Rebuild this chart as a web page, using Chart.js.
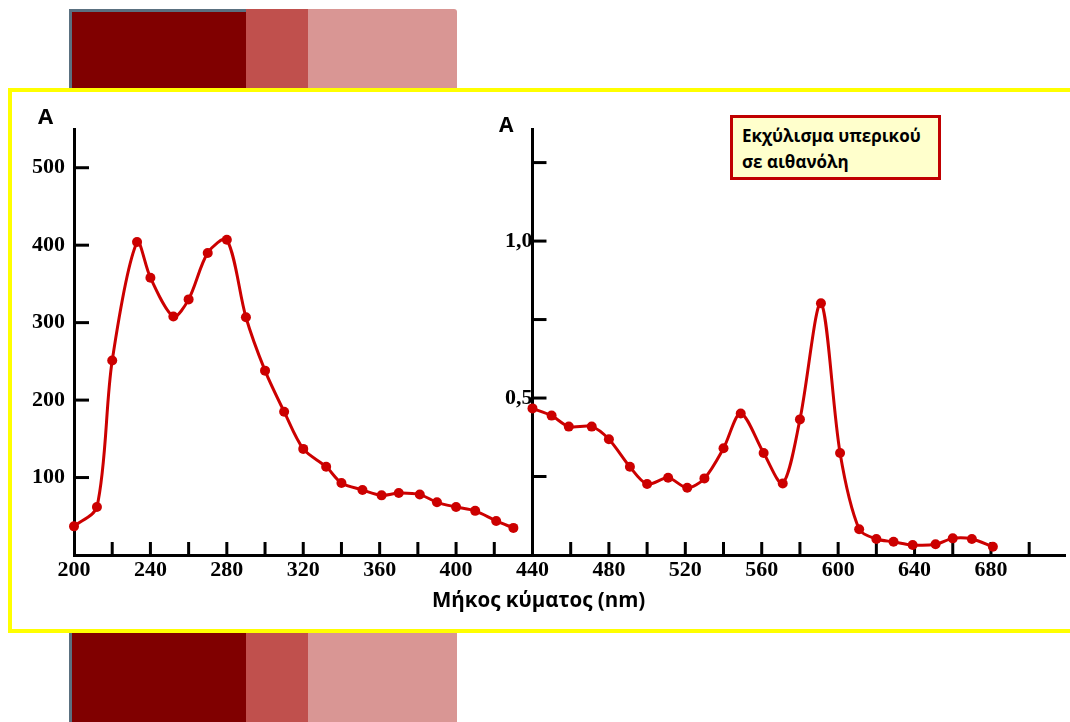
<!DOCTYPE html>
<html>
<head>
<meta charset="utf-8">
<script src="https://cdn.jsdelivr.net/npm/chart.js@4.4.1/dist/chart.umd.min.js"></script>
<style>
  html, body { margin: 0; padding: 0; width: 1070px; height: 722px; overflow: hidden; background: #ffffff; }
  .abs { position: absolute; }
  .dark { background: #800000; }
  .mid { background: #C0504D; }
  .light { background: #D99694; }
  #frame { left: 8px; top: 88px; width: 1100px; height: 545px; box-sizing: border-box; border: 4px solid #FFFF00; background: #ffffff; }
  #chartCanvas { left: 0; top: 0; }
  .txt { position: absolute; font-family: 'Open Sans', 'Noto Sans', sans-serif; font-weight: bold; color: #000; line-height: 1; white-space: nowrap; }
  #legendBox { left: 730px; top: 115px; width: 211px; height: 65px; box-sizing: border-box; border: 3px solid #C00000; background: #FFFFCC; }
</style>
</head>
<body>
<!-- decorative slide bars -->
<div class="abs dark" style="left:69px;top:9px;width:177px;height:79px;border-left:3px solid #5A7080;border-top:3px solid #5A7080;box-sizing:border-box;"></div>
<div class="abs mid" style="left:246px;top:9px;width:62px;height:79px;"></div>
<div class="abs light" style="left:308px;top:9px;width:149px;height:79px;border-top-right-radius:3px;"></div>
<div class="abs dark" style="left:69px;top:633px;width:177px;height:89px;border-left:3px solid #5A7080;box-sizing:border-box;"></div>
<div class="abs mid" style="left:246px;top:633px;width:62px;height:89px;"></div>
<div class="abs light" style="left:308px;top:633px;width:149px;height:89px;"></div>

<div id="frame" class="abs"></div>
<canvas id="chartCanvas" class="abs" width="1070" height="722"></canvas>

<div class="txt" style="left:38px;top:104px;font-size:22px;">A</div>
<div class="txt" style="left:499px;top:114px;font-size:21px;">A</div>
<div class="txt" style="left:432px;top:589px;font-size:20.5px;">Μήκος κύματος (nm)</div>
<div id="legendBox" class="abs">
  <div class="txt" style="left:9px;top:9px;font-size:17px;">Εκχύλισμα υπερικού</div>
  <div class="txt" style="left:9px;top:35px;font-size:17px;">σε αιθανόλη</div>
</div>

<script>
// ---- data ----
const leftWavelengths = [200, 212, 220, 233, 240, 252, 260, 270, 280, 290, 300, 310, 320, 332, 340, 351, 361, 370, 381, 390, 400, 410, 421, 430];
const leftAbsorbance  = [37, 62, 251, 404, 358, 308, 330, 390, 407, 307, 238, 185, 137, 114, 93, 84, 77, 80, 78, 68, 62, 57, 44, 35];

const rightWavelengths = [440, 450, 459, 471, 480, 491, 500, 511, 521, 530, 540, 549, 561, 571, 580, 591, 601, 611, 620, 629, 639, 651, 660, 670, 681];
const rightAbsorbance  = [0.467, 0.444, 0.409, 0.409, 0.369, 0.281, 0.226, 0.246, 0.214, 0.244, 0.340, 0.451, 0.325, 0.228, 0.432, 0.802, 0.325, 0.082, 0.051, 0.042, 0.032, 0.034, 0.053, 0.051, 0.026];

const xTickLabels = [200, 240, 280, 320, 360, 400, 440, 480, 520, 560, 600, 640, 680];
const leftTickLabels = [100, 200, 300, 400, 500];
const rightTickValues = [0.5, 1.0];
const rightTickText = ['0,5', '1,0'];
const rightAxisAt = 440;

// ---- chart ----
const tickFont = { family: "'Liberation Serif', 'Times New Roman', serif", weight: 'bold', size: 22 };
const RED = '#CC0000';

const innerTicks = {
  id: 'innerTicks',
  beforeDatasetsDraw(chart) {
    const { ctx, chartArea, scales } = chart;
    ctx.save();
    ctx.strokeStyle = '#000';
    ctx.lineWidth = 3;
    scales.x.ticks.forEach(t => {
      if (t.value <= scales.x.min) return;
      const px = scales.x.getPixelForValue(t.value);
      ctx.beginPath(); ctx.moveTo(px, chartArea.bottom); ctx.lineTo(px, chartArea.bottom - 13); ctx.stroke();
    });
    scales.y.ticks.forEach(t => {
      if (t.value <= 0) return;
      const py = scales.y.getPixelForValue(t.value);
      ctx.beginPath(); ctx.moveTo(chartArea.left, py); ctx.lineTo(chartArea.left + 15, py); ctx.stroke();
    });
    const ax = scales.x.getPixelForValue(rightAxisAt);
    scales.y2.ticks.forEach(t => {
      if (t.value <= 0) return;
      const py = scales.y2.getPixelForValue(t.value);
      ctx.beginPath(); ctx.moveTo(ax, py); ctx.lineTo(ax + 14, py); ctx.stroke();
    });
    ctx.restore();
  }
};

const dsStyle = {
  borderColor: RED, backgroundColor: RED, pointBackgroundColor: RED, pointBorderColor: RED,
  borderWidth: 3, pointRadius: 5, pointBorderWidth: 0, tension: 0.3, clip: false, fill: false
};

new Chart(document.getElementById('chartCanvas'), {
  type: 'line',
  data: {
    datasets: [
      Object.assign({ label: 'UV', xAxisID: 'x', yAxisID: 'y',
        data: leftWavelengths.map((w, i) => ({ x: w, y: leftAbsorbance[i] })) }, dsStyle),
      Object.assign({ label: 'VIS', xAxisID: 'x', yAxisID: 'y2',
        data: rightWavelengths.map((w, i) => ({ x: w, y: rightAbsorbance[i] })) }, dsStyle)
    ]
  },
  plugins: [innerTicks],
  options: {
    responsive: false,
    animation: false,
    events: [],
    layout: { padding: { left: 0, top: 129, right: 0, bottom: 127 } },
    plugins: { legend: { display: false }, tooltip: { enabled: false }, title: { display: false } },
    scales: {
      x: {
        type: 'linear', position: 'bottom', min: 200, max: 718.75,
        afterFit(s) { s.height = 40; },
        grid: { display: false, drawTicks: false },
        border: { display: true, color: '#000', width: 3 },
        ticks: {
          stepSize: 20, includeBounds: false, autoSkip: false, maxRotation: 0, padding: 2,
          color: '#000', font: tickFont,
          callback: v => xTickLabels.includes(v) ? String(v) : ''
        }
      },
      y: {
        type: 'linear', position: 'left', min: 0, max: 550,
        afterFit(s) { s.width = 74; },
        grid: { display: false, drawTicks: false },
        border: { display: true, color: '#000', width: 3 },
        ticks: {
          stepSize: 100, includeBounds: false, padding: 9, color: '#000', font: tickFont,
          callback: v => leftTickLabels.includes(v) ? String(v) : ''
        }
      },
      y2: {
        type: 'linear', position: { x: rightAxisAt }, min: 0, max: 1.357,
        grid: { display: false, drawTicks: false },
        border: { display: true, color: '#000', width: 3 },
        ticks: {
          stepSize: 0.25, includeBounds: false, padding: 7, color: '#000', font: tickFont,
          callback: v => {
            const k = rightTickValues.findIndex(r => Math.abs(r - v) < 1e-6);
            return k >= 0 ? rightTickText[k] : '';
          }
        }
      }
    }
  }
});
</script>
</body>
</html>
